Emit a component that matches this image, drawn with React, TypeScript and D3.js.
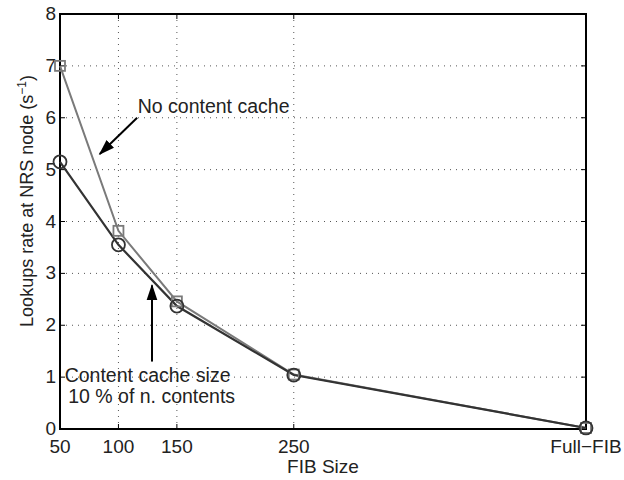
import React, { useEffect, useRef } from "react";
import * as d3 from "d3";

// FIB sizes (Full-FIB placed at 500 on the linear axis)
const fibSizes = [50, 100, 150, 250, 500];
const tickLabels = ["50", "100", "150", "250", "Full\u2212FIB"];
const noCache = [7.0, 3.82, 2.46, 1.05, 0.02];
const withCache = [5.15, 3.55, 2.37, 1.04, 0.02];
const yTicks = [0, 1, 2, 3, 4, 5, 6, 7, 8];

const W = 624;
const H = 480;
const FONT = "'Liberation Sans', Arial, sans-serif";

export default function App() {
  const ref = useRef<SVGSVGElement>(null);

  useEffect(() => {
    const svg = d3.select(ref.current);
    svg.selectAll("*").remove();

    const margin = { top: 14, right: 38, bottom: 51, left: 60 };
    const x = d3.scaleLinear().domain([50, 500]).range([margin.left, W - margin.right]);
    const y = d3.scaleLinear().domain([0, 8]).range([H - margin.bottom, margin.top]);

    svg.append("defs").append("marker")
      .attr("id", "arrow")
      .attr("viewBox", "0 0 12 10")
      .attr("refX", 11).attr("refY", 5)
      .attr("markerWidth", 8).attr("markerHeight", 7)
      .attr("markerUnits", "strokeWidth")
      .attr("orient", "auto")
      .append("path")
      .attr("d", "M0,1 L12,5 L0,9 Z")
      .attr("fill", "#000");

    // grid
    const grid = svg.append("g").attr("stroke", "#555").attr("stroke-dasharray", "1,5").attr("stroke-width", 1);
    fibSizes.slice(1, -1).forEach(v => {
      grid.append("line").attr("x1", x(v)).attr("x2", x(v)).attr("y1", y(0)).attr("y2", y(8));
    });
    yTicks.slice(1, -1).forEach(v => {
      grid.append("line").attr("x1", x(50)).attr("x2", x(500)).attr("y1", y(v)).attr("y2", y(v));
    });

    // box + ticks
    const axes = svg.append("g").attr("stroke", "#000");
    axes.append("rect")
      .attr("x", x(50)).attr("y", y(8))
      .attr("width", x(500) - x(50)).attr("height", y(0) - y(8))
      .attr("fill", "none").attr("stroke-width", 2);
    fibSizes.forEach(v => {
      axes.append("line").attr("x1", x(v)).attr("x2", x(v)).attr("y1", y(0)).attr("y2", y(0) - 5);
      axes.append("line").attr("x1", x(v)).attr("x2", x(v)).attr("y1", y(8)).attr("y2", y(8) + 5);
    });
    yTicks.forEach(v => {
      axes.append("line").attr("x1", x(50)).attr("x2", x(50) + 5).attr("y1", y(v)).attr("y2", y(v));
      axes.append("line").attr("x1", x(500)).attr("x2", x(500) - 5).attr("y1", y(v)).attr("y2", y(v));
    });

    // tick labels
    const labels = svg.append("g").attr("font-family", FONT).attr("font-size", 19).attr("fill", "#222");
    fibSizes.forEach((v, i) => {
      labels.append("text").attr("x", x(v)).attr("y", y(0) + 24)
        .attr("text-anchor", "middle").text(tickLabels[i]);
    });
    yTicks.forEach(v => {
      labels.append("text").attr("x", x(50) - 4).attr("y", y(v) + 6)
        .attr("text-anchor", "end").text(v);
    });

    labels.append("text").attr("x", (x(50) + x(500)) / 2).attr("y", H - 7)
      .attr("text-anchor", "middle").text("FIB Size");

    const yl = labels.append("text")
      .attr("transform", `translate(33,201) rotate(-90)`)
      .attr("text-anchor", "middle").attr("font-size", 18);
    yl.append("tspan").text("Lookups rate at NRS node (s");
    yl.append("tspan").attr("dy", -7).attr("font-size", 12).text("\u22121");
    yl.append("tspan").attr("dy", 7).text(")");

    const line = d3.line<number>().x((_, i) => x(fibSizes[i])).y(d => y(d));

    // no cache series (gray, squares)
    svg.append("path").datum(noCache).attr("d", line)
      .attr("fill", "none").attr("stroke", "#7a7a7a").attr("stroke-width", 2);
    // with cache series (dark, circles)
    svg.append("path").datum(withCache).attr("d", line)
      .attr("fill", "none").attr("stroke", "#333").attr("stroke-width", 2.2);

    svg.append("g").selectAll("rect").data(noCache).join("rect")
      .attr("x", (_, i) => x(fibSizes[i]) - 5).attr("y", d => y(d) - 5)
      .attr("width", 10).attr("height", 10)
      .attr("fill", "none").attr("stroke", "#7a7a7a").attr("stroke-width", 1.8);
    svg.append("g").selectAll("circle").data(withCache).join("circle")
      .attr("cx", (_, i) => x(fibSizes[i])).attr("cy", d => y(d)).attr("r", 6.5)
      .attr("fill", "none").attr("stroke", "#333").attr("stroke-width", 1.8);

    // annotations
    const ann = svg.append("g").attr("font-family", FONT).attr("font-size", 19.5).attr("fill", "#222");
    ann.append("text").attr("x", x(116.5)).attr("y", y(6.1)).text("No content cache");
    svg.append("line")
      .attr("x1", x(116)).attr("y1", y(6.0)).attr("x2", x(84)).attr("y2", y(5.3))
      .attr("stroke", "#000").attr("stroke-width", 2).attr("marker-end", "url(#arrow)");

    ann.append("text").attr("x", x(54)).attr("y", y(0.9)).text("Content cache size");
    ann.append("text").attr("x", x(57)).attr("y", y(0.5)).text("10 % of n. contents");
    svg.append("line")
      .attr("x1", x(128.7)).attr("y1", y(1.3)).attr("x2", x(128.7)).attr("y2", y(2.77))
      .attr("stroke", "#000").attr("stroke-width", 2).attr("marker-end", "url(#arrow)");
  }, []);

  return (
    <svg ref={ref} width={W} height={H}
      style={{ position: "absolute", left: 0, top: 0, background: "#fff" }} />
  );
}
